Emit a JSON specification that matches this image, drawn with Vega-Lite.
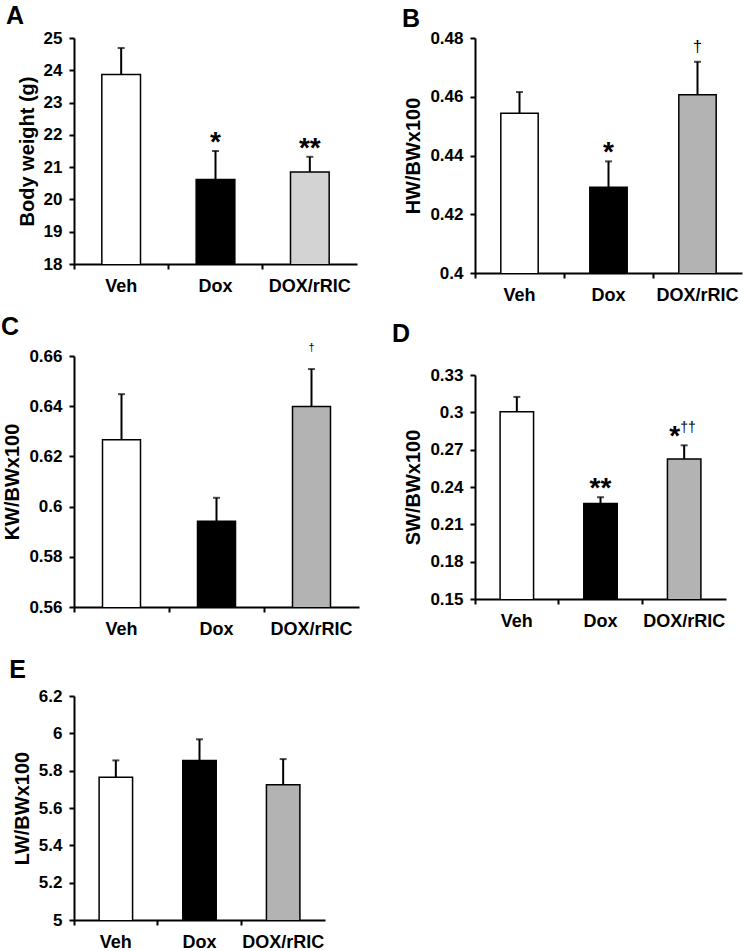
{
  "$schema": "https://vega.github.io/schema/vega-lite/v6.json",
  "padding": {"left": 0, "top": 3, "right": 5, "bottom": 0},
  "background": "white",
  "datasets": {
    "A": [
      {"group": "Veh", "mean": 23.87, "upper": 24.69, "star": "", "dag": ""},
      {"group": "Dox", "mean": 20.62, "upper": 21.5, "star": "*", "dag": ""},
      {"group": "DOX/rRIC", "mean": 20.85, "upper": 21.32, "star": "**", "dag": ""}
    ],
    "B": [
      {"group": "Veh", "mean": 0.4544, "upper": 0.4616, "star": "", "dag": ""},
      {"group": "Dox", "mean": 0.4292, "upper": 0.438, "star": "*", "dag": ""},
      {"group": "DOX/rRIC", "mean": 0.4607, "upper": 0.4719, "star": "", "dag": "†"}
    ],
    "C": [
      {"group": "Veh", "mean": 0.6266, "upper": 0.6448, "star": "", "dag": ""},
      {"group": "Dox", "mean": 0.5942, "upper": 0.6035, "star": "", "dag": ""},
      {"group": "DOX/rRIC", "mean": 0.6399, "upper": 0.6548, "star": "", "dag": "†"}
    ],
    "D": [
      {"group": "Veh", "mean": 0.3005, "upper": 0.3124, "star": "", "dag": ""},
      {"group": "Dox", "mean": 0.2268, "upper": 0.2318, "star": "**", "dag": ""},
      {"group": "DOX/rRIC", "mean": 0.2625, "upper": 0.2735, "star": "*", "dag": "††"}
    ],
    "E": [
      {"group": "Veh", "mean": 5.765, "upper": 5.855, "star": "", "dag": ""},
      {"group": "Dox", "mean": 5.855, "upper": 5.968, "star": "", "dag": ""},
      {"group": "DOX/rRIC", "mean": 5.725, "upper": 5.862, "star": "", "dag": ""}
    ]
  },
  "spacing": 32,
  "resolve": {"scale": {"fill": "independent"}},
  "hconcat": [
    {
      "spacing": 20,
      "resolve": {"scale": {"fill": "independent"}},
      "vconcat": [
        {
          "title": {"text": "A", "offset": -2.5, "dx": -11},
          "width": 283, "height": 226,
          "data": {"name": "A"},
          "encoding": {"x": {"field": "group", "type": "nominal", "sort": ["Veh", "Dox", "DOX/rRIC"], "scale": {"paddingInner": 0, "paddingOuter": 0}, "axis": {"title": null}}},
          "layer": [
            {"mark": {"type": "bar", "width": {"band": 0.41}, "stroke": "black", "strokeWidth": 1.5, "clip": true},
             "encoding": {
               "y": {"field": "mean", "type": "quantitative", "title": "Body weight (g)", "scale": {"domain": [18, 25], "zero": false, "nice": false}, "axis": {"values": [18, 19, 20, 21, 22, 23, 24, 25]}},
               "fill": {"field": "group", "type": "nominal", "scale": {"domain": ["Veh", "Dox", "DOX/rRIC"], "range": ["#ffffff", "#000000", "#d3d3d3"]}, "legend": null}}},
            {"mark": {"type": "rule", "strokeWidth": 2, "color": "black"}, "encoding": {"y": {"field": "mean", "type": "quantitative"}, "y2": {"field": "upper"}}},
            {"mark": {"type": "tick", "orient": "horizontal", "size": 7, "thickness": 2, "color": "black"}, "encoding": {"y": {"field": "upper", "type": "quantitative"}}},
            {"mark": {"type": "text", "baseline": "alphabetic", "dy": 0, "fontSize": 28, "fontWeight": "bold", "fill": "black"}, "encoding": {"y": {"field": "upper", "type": "quantitative"}, "text": {"field": "star"}}}
          ]
        },
        {
          "title": {"text": "C", "offset": 2, "dx": -2},
          "width": 285, "height": 251,
          "data": {"name": "C"},
          "encoding": {"x": {"field": "group", "type": "nominal", "sort": ["Veh", "Dox", "DOX/rRIC"], "scale": {"paddingInner": 0, "paddingOuter": 0}, "axis": {"title": null}}},
          "layer": [
            {"mark": {"type": "bar", "width": {"band": 0.4}, "stroke": "black", "strokeWidth": 1.5, "clip": true},
             "encoding": {
               "y": {"field": "mean", "type": "quantitative", "title": "KW/BWx100", "scale": {"domain": [0.56, 0.66], "zero": false, "nice": false}, "axis": {"values": [0.56, 0.58, 0.6, 0.62, 0.64, 0.66]}},
               "fill": {"field": "group", "type": "nominal", "scale": {"domain": ["Veh", "Dox", "DOX/rRIC"], "range": ["#ffffff", "#000000", "#b3b3b3"]}, "legend": null}}},
            {"mark": {"type": "rule", "strokeWidth": 2, "color": "black"}, "encoding": {"y": {"field": "mean", "type": "quantitative"}, "y2": {"field": "upper"}}},
            {"mark": {"type": "tick", "orient": "horizontal", "size": 7, "thickness": 2, "color": "black"}, "encoding": {"y": {"field": "upper", "type": "quantitative"}}},
            {"mark": {"type": "text", "baseline": "alphabetic", "dy": -18, "fontSize": 11, "fill": "black"}, "encoding": {"y": {"field": "upper", "type": "quantitative"}, "text": {"field": "dag"}}}
          ]
        },
        {
          "title": {"text": "E", "offset": 4, "dx": -3},
          "width": 251, "height": 224,
          "data": {"name": "E"},
          "encoding": {"x": {"field": "group", "type": "nominal", "sort": ["Veh", "Dox", "DOX/rRIC"], "scale": {"paddingInner": 0, "paddingOuter": 0}, "axis": {"title": null}}},
          "layer": [
            {"mark": {"type": "bar", "width": {"band": 0.4}, "stroke": "black", "strokeWidth": 1.5, "clip": true},
             "encoding": {
               "y": {"field": "mean", "type": "quantitative", "title": "LW/BWx100", "scale": {"domain": [5, 6.2], "zero": false, "nice": false}, "axis": {"values": [5, 5.2, 5.4, 5.6, 5.8, 6, 6.2]}},
               "fill": {"field": "group", "type": "nominal", "scale": {"domain": ["Veh", "Dox", "DOX/rRIC"], "range": ["#ffffff", "#000000", "#b3b3b3"]}, "legend": null}}},
            {"mark": {"type": "rule", "strokeWidth": 2, "color": "black"}, "encoding": {"y": {"field": "mean", "type": "quantitative"}, "y2": {"field": "upper"}}},
            {"mark": {"type": "tick", "orient": "horizontal", "size": 7, "thickness": 2, "color": "black"}, "encoding": {"y": {"field": "upper", "type": "quantitative"}}}
          ]
        }
      ]
    },
    {
      "spacing": 18,
      "resolve": {"scale": {"fill": "independent"}},
      "vconcat": [
        {
          "title": {"text": "B", "offset": -2.5, "dx": -2},
          "width": 267, "height": 235,
          "data": {"name": "B"},
          "encoding": {"x": {"field": "group", "type": "nominal", "sort": ["Veh", "Dox", "DOX/rRIC"], "scale": {"paddingInner": 0, "paddingOuter": 0}, "axis": {"title": null}}},
          "layer": [
            {"mark": {"type": "bar", "width": {"band": 0.42}, "stroke": "black", "strokeWidth": 1.5, "clip": true},
             "encoding": {
               "y": {"field": "mean", "type": "quantitative", "title": "HW/BWx100", "scale": {"domain": [0.4, 0.48], "zero": false, "nice": false}, "axis": {"values": [0.4, 0.42, 0.44, 0.46, 0.48]}},
               "fill": {"field": "group", "type": "nominal", "scale": {"domain": ["Veh", "Dox", "DOX/rRIC"], "range": ["#ffffff", "#000000", "#b3b3b3"]}, "legend": null}}},
            {"mark": {"type": "rule", "strokeWidth": 2, "color": "black"}, "encoding": {"y": {"field": "mean", "type": "quantitative"}, "y2": {"field": "upper"}}},
            {"mark": {"type": "tick", "orient": "horizontal", "size": 7, "thickness": 2, "color": "black"}, "encoding": {"y": {"field": "upper", "type": "quantitative"}}},
            {"mark": {"type": "text", "baseline": "alphabetic", "dy": 0, "fontSize": 28, "fontWeight": "bold", "fill": "black"}, "encoding": {"y": {"field": "upper", "type": "quantitative"}, "text": {"field": "star"}}},
            {"mark": {"type": "text", "baseline": "alphabetic", "dy": -10, "fontSize": 17, "fill": "black"}, "encoding": {"y": {"field": "upper", "type": "quantitative"}, "text": {"field": "dag"}}}
          ]
        },
        {
          "title": {"text": "D", "offset": 19, "dx": -12},
          "width": 251, "height": 224,
          "data": {"name": "D"},
          "encoding": {"x": {"field": "group", "type": "nominal", "sort": ["Veh", "Dox", "DOX/rRIC"], "scale": {"paddingInner": 0, "paddingOuter": 0}, "axis": {"title": null}}},
          "layer": [
            {"mark": {"type": "bar", "width": {"band": 0.4}, "stroke": "black", "strokeWidth": 1.5, "clip": true},
             "encoding": {
               "y": {"field": "mean", "type": "quantitative", "title": "SW/BWx100", "scale": {"domain": [0.15, 0.33], "zero": false, "nice": false}, "axis": {"values": [0.15, 0.18, 0.21, 0.24, 0.27, 0.3, 0.33]}},
               "fill": {"field": "group", "type": "nominal", "scale": {"domain": ["Veh", "Dox", "DOX/rRIC"], "range": ["#ffffff", "#000000", "#b3b3b3"]}, "legend": null}}},
            {"mark": {"type": "rule", "strokeWidth": 2, "color": "black"}, "encoding": {"y": {"field": "mean", "type": "quantitative"}, "y2": {"field": "upper"}}},
            {"mark": {"type": "tick", "orient": "horizontal", "size": 7, "thickness": 2, "color": "black"}, "encoding": {"y": {"field": "upper", "type": "quantitative"}}},
            {"transform": [{"filter": "datum.dag == ''"}],
             "mark": {"type": "text", "baseline": "alphabetic", "dy": 0, "fontSize": 28, "fontWeight": "bold", "fill": "black"}, "encoding": {"y": {"field": "upper", "type": "quantitative"}, "text": {"field": "star"}}},
            {"transform": [{"filter": "datum.dag != ''"}],
             "mark": {"type": "text", "baseline": "alphabetic", "align": "right", "dx": -4, "dy": 0, "fontSize": 28, "fontWeight": "bold", "fill": "black"}, "encoding": {"y": {"field": "upper", "type": "quantitative"}, "text": {"field": "star"}}},
            {"transform": [{"filter": "datum.dag != ''"}],
             "mark": {"type": "text", "baseline": "alphabetic", "align": "left", "dx": -4, "dy": -13, "fontSize": 14, "fill": "black"}, "encoding": {"y": {"field": "upper", "type": "quantitative"}, "text": {"field": "dag"}}}
          ]
        }
      ]
    }
  ],
  "config": {
    "font": "Liberation Sans",
    "view": {"stroke": null},
    "title": {"anchor": "start", "fontSize": 25, "fontWeight": "bold", "color": "black", "frame": "bounds"},
    "axis": {
      "domainColor": "black", "domainWidth": 2, "tickColor": "black", "tickWidth": 2, "tickSize": 5,
      "labelFont": "Liberation Sans", "labelFontWeight": "bold", "labelColor": "black",
      "titleFont": "Liberation Sans", "titleFontWeight": "bold", "titleColor": "black", "titleFontSize": 20,
      "grid": false, "labelOverlap": false, "tickCount": 20
    },
    "axisY": {"labelFontSize": 17, "labelPadding": 7, "titlePadding": 6, "format": "~g", "tickCount": 20},
    "axisX": {"labelFontSize": 18, "labelPadding": 8, "labelAngle": 0, "bandPosition": 0}
  }
}
